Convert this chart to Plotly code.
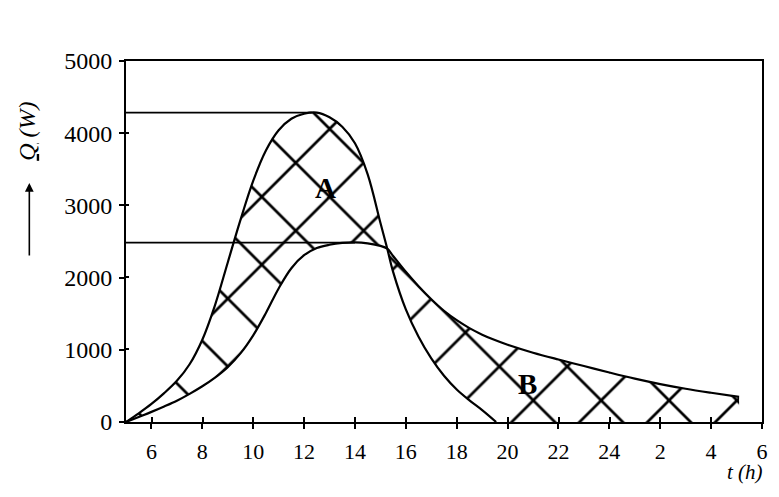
import plotly.graph_objects as go

# ---- data ----
# hours on a continuous 5..30 scale (24 -> 24, 2 -> 26, 4 -> 28, 6 -> 30)
upper_t = [5.0, 5.5, 6.0, 6.5, 7.0, 7.5, 8.0, 8.5, 9.0, 9.5, 10.0, 10.5, 11.0, 11.5,
           12.0, 12.5, 13.0, 13.5, 14.0, 14.5, 15.0, 15.27, 15.5, 16.0, 16.5, 17.0,
           17.5, 18.0, 18.5, 19.0, 19.55]
upper_q = [0, 120, 250, 400, 570, 800, 1140, 1620, 2210, 2800, 3340, 3760, 4040, 4200,
           4270, 4285, 4220, 4090, 3860, 3430, 2760, 2400, 2080, 1560, 1180, 880,
           640, 450, 300, 165, 0]

lower_t = [5.0, 5.5, 6.0, 6.5, 7.0, 7.5, 8.0, 8.5, 9.0, 9.5, 10.0, 10.5, 11.0, 11.5,
           12.0, 12.5, 13.0, 13.5, 14.0, 14.5, 15.0, 15.27, 15.5, 16.0, 16.5, 17.0,
           17.5, 18.0, 18.5, 19.0, 19.5, 20.0, 21.0, 22.0, 23.0, 24.0, 25.0, 26.0,
           27.0, 28.0, 29.1]
lower_q = [0, 70, 140, 215, 295, 390, 495, 615, 760, 950, 1200, 1510, 1850, 2130,
           2310, 2410, 2455, 2480, 2488, 2475, 2440, 2400, 2300, 2080, 1880, 1700,
           1540, 1410, 1300, 1210, 1135, 1070, 960, 865, 775, 685, 600, 525,
           460, 405, 349]

cross_t = 15.27          # intersection of the two curves
peak_upper = (12.3, 4285)
peak_lower = (14.0, 2485)

x_tickvals = [6, 8, 10, 12, 14, 16, 18, 20, 22, 24, 26, 28, 30]
x_ticktext = ["6", "8", "10", "12", "14", "16", "18", "20", "22", "24", "2", "4", "6"]
y_tickvals = [0, 1000, 2000, 3000, 4000, 5000]

label_A = (12.85, 3240)
label_B = (20.8, 520)

# ---- derived pieces ----
uA_t = [t for t in upper_t if t <= cross_t]
uA_q = [q for t, q in zip(upper_t, upper_q) if t <= cross_t]
lA_t = [t for t in lower_t if t <= cross_t]
lA_q = [q for t, q in zip(lower_t, lower_q) if t <= cross_t]

lB_t = [t for t in lower_t if t >= cross_t]
lB_q = [q for t, q in zip(lower_t, lower_q) if t >= cross_t]
uB_t = [t for t in upper_t if t >= cross_t] + [lower_t[-1]]
uB_q = [q for t, q in zip(upper_t, upper_q) if t >= cross_t] + [0]

FONT = "Liberation Serif"
pattern = dict(shape="x", size=48, solidity=0.11, fgcolor="black", fgopacity=1, bgcolor="white")
SM = 1.0
line_k = dict(color="black", width=2.2, shape="spline", smoothing=SM)
line_0 = dict(width=0, shape="spline", smoothing=SM)

fig = go.Figure()

# hatched region A
fig.add_trace(go.Scatter(x=uA_t, y=uA_q, mode="lines", line=line_0,
                         showlegend=False, hoverinfo="skip"))
fig.add_trace(go.Scatter(x=lA_t, y=lA_q, mode="lines", line=line_0,
                         fill="tonexty", fillcolor="white", fillpattern=pattern,
                         showlegend=False, hoverinfo="skip"))
# hatched region B
fig.add_trace(go.Scatter(x=lB_t, y=lB_q, mode="lines", line=line_0,
                         showlegend=False, hoverinfo="skip"))
fig.add_trace(go.Scatter(x=uB_t, y=uB_q, mode="lines", line=dict(width=0, shape="spline", smoothing=0.5),
                         fill="tonexty", fillcolor="white", fillpattern=pattern,
                         showlegend=False, hoverinfo="skip"))

# horizontal reference lines at the peaks
fig.add_trace(go.Scatter(x=[5, peak_upper[0]], y=[peak_upper[1]] * 2, mode="lines",
                         line=dict(color="black", width=1.6), showlegend=False, hoverinfo="skip"))
fig.add_trace(go.Scatter(x=[5, peak_lower[0]], y=[peak_lower[1]] * 2, mode="lines",
                         line=dict(color="black", width=1.6), showlegend=False, hoverinfo="skip"))

# curves
fig.add_trace(go.Scatter(x=upper_t, y=upper_q, mode="lines", line=line_k, showlegend=False))
fig.add_trace(go.Scatter(x=lower_t, y=lower_q, mode="lines", line=line_k, showlegend=False))

fig.add_annotation(x=label_A[0], y=label_A[1], text="<b>A</b>", showarrow=False,
                   font=dict(family=FONT, size=29, color="black"))
fig.add_annotation(x=label_B[0], y=label_B[1], text="<b>B</b>", showarrow=False,
                   font=dict(family=FONT, size=29, color="black"))

# axis titles
fig.add_annotation(xref="paper", yref="paper", x=0.974, y=-0.138, xanchor="center", yanchor="middle",
                   text="<i>t (h)</i>", showarrow=False, font=dict(family=FONT, size=21, color="black"))
fig.add_annotation(xref="paper", yref="paper", x=-0.156, y=0.806, xanchor="center", yanchor="middle",
                   text="<i><u>Q</u> (W)</i>", textangle=-90, showarrow=False,
                   font=dict(family=FONT, size=24, color="black"))
fig.add_annotation(xref="paper", yref="paper", x=-0.152, y=0.662, text="",
                   showarrow=True, axref="pixel", ayref="pixel", ax=0, ay=74,
                   arrowhead=2, arrowsize=1.1, arrowwidth=1.6, arrowcolor="black")

fig.update_xaxes(range=[5, 30], tickmode="array", tickvals=x_tickvals, ticktext=x_ticktext,
                 showline=True, linecolor="black", linewidth=2, mirror=True,
                 ticks="outside", ticklen=5, tickwidth=1.5, tickcolor="black",
                 ticklabelstandoff=4,
                 minor=dict(tickmode="array", tickvals=[v + 0.01 for v in x_tickvals],
                            ticks="inside", ticklen=5, tickwidth=1.5, tickcolor="black"),
                 showgrid=False, zeroline=False,
                 tickfont=dict(family=FONT, size=22, color="black"))
fig.update_yaxes(range=[0, 5000], tickmode="array", tickvals=y_tickvals,
                 showline=True, linecolor="black", linewidth=2, mirror=True,
                 ticks="outside", ticklen=5, tickwidth=1.5, tickcolor="black",
                 ticklabelstandoff=2,
                 minor=dict(tickmode="array", tickvals=[v + 5 for v in y_tickvals[1:-1]],
                            ticks="inside", ticklen=3, tickwidth=1.5, tickcolor="black"),
                 showgrid=False, zeroline=False,
                 tickfont=dict(family=FONT, size=24, color="black"))

fig.update_layout(width=779, height=497, margin=dict(l=126, r=11, t=61, b=75),
                  plot_bgcolor="white", paper_bgcolor="white", showlegend=False)

fig.write_html("out.html")
